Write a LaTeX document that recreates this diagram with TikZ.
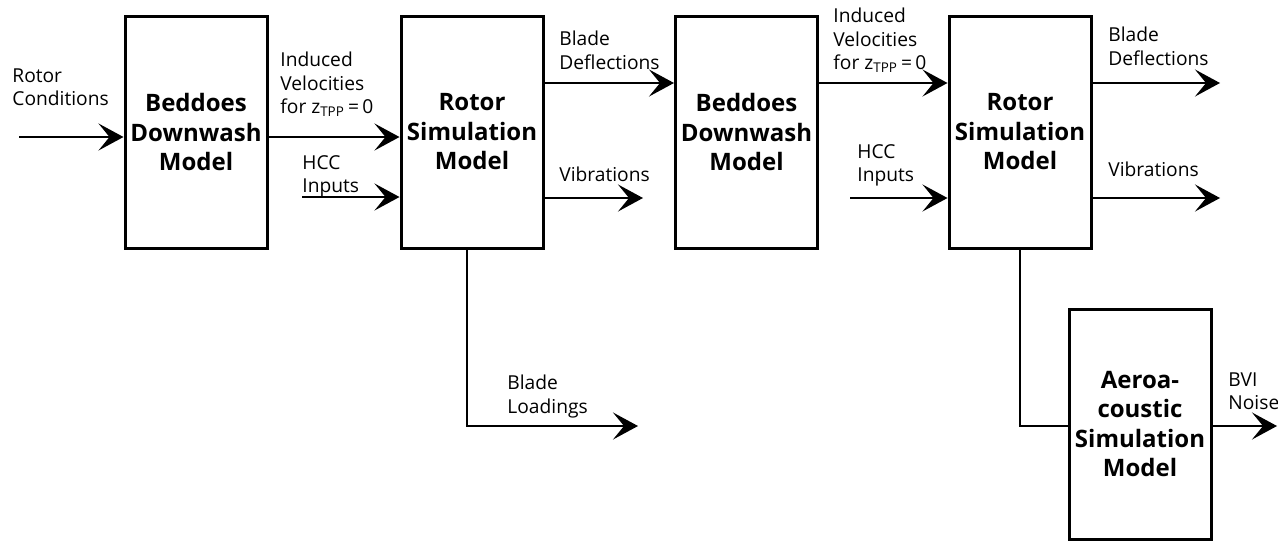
\documentclass[tikz,border=0pt]{standalone}
\usepackage{fontspec}
\setmainfont{Open Sans}
\usetikzlibrary{arrows.meta}
\tikzset{
  modelbox/.style={draw, line width=1.5pt, rectangle, inner sep=0pt, minimum width=71pt, minimum height=116pt, align=center, font=\bfseries\fontsize{12}{14.75}\selectfont},
  lbl/.style={anchor=north west, inner sep=0pt, align=left, font=\fontsize{9.6}{11.6}\selectfont},
  conn/.style={line width=1pt},
  arr/.style={line width=1pt, -{Stealth[length=12.5pt,width=13.5pt,inset=5.5pt]}}
}
\begin{document}
\begin{tikzpicture}[x=0.5pt,y=-0.5pt]
\useasboundingbox (0,0) rectangle (1278,541);
% boxes
\node[modelbox] (b1) at (196,132) {Beddoes\\Downwash\\Model};
\node[modelbox] (b2) at (472,132) {Rotor\\Simulation\\Model};
\node[modelbox] (b3) at (746.5,132) {Beddoes\\Downwash\\Model};
\node[modelbox] (b4) at (1020,132) {Rotor\\Simulation\\Model};
\node[modelbox, minimum height=115pt] (b5) at (1140,424) {Aeroa-\\coustic\\Simulation\\Model};
% free ends
\coordinate (rc) at (19,137);
\coordinate (iv1) at (300,137);
\coordinate (hcc1) at (302,197);
\coordinate (bd1) at (600,83);
\coordinate (vib1) at (643,198);
\coordinate (hcc2) at (850,198);
\coordinate (bd2) at (1220,83);
\coordinate (vib2) at (1220,198);
\coordinate (blc) at (467,426);
\coordinate (bl) at (638,426);
\coordinate (bvi) at (1277,426);
% connectors
\draw[arr] (rc) -- (rc -| b1.west);
\draw[arr] (iv1 -| b1.east) -- (iv1 -| b2.west);
\draw[arr] (hcc1) -- (hcc1 -| b2.west);
\draw[arr] (bd1 -| b2.east) -- (bd1 -| b3.west);
\draw[arr] (vib1 -| b2.east) -- (vib1);
\draw[arr] (bd1 -| b3.east) -- (bd1 -| b4.west);
\draw[arr] (hcc2) -- (hcc2 -| b4.west);
\draw[arr] (bd2 -| b4.east) -- (bd2);
\draw[arr] (vib2 -| b4.east) -- (vib2);
\draw[arr] (blc |- b2.south) -- (blc) -- (bl);
\draw[conn] (b4.south) |- (bvi -| b5.west);
\draw[arr] (bvi -| b5.east) -- (bvi);
% labels
\node[lbl] (trc) at (12,68) {Rotor\\Conditions};
\node[lbl] (tiv1) at (280,52) {Induced\\Velocities\\for z\textsubscript{TPP}\,=\,0};
\node[lbl] (thcc1) at (302,155) {HCC\\Inputs};
\node[lbl] (tbd1) at (559,31) {Blade\\Deflections};
\node[lbl] (tvib1) at (559,167) {Vibrations};
\node[lbl] (tiv2) at (833,8) {Induced\\Velocities\\for z\textsubscript{TPP}\,=\,0};
\node[lbl] (thcc2) at (857,144) {HCC\\Inputs};
\node[lbl] (tbd2) at (1108,27) {Blade\\Deflections};
\node[lbl] (tvib2) at (1108,162) {Vibrations};
\node[lbl] (tbl) at (507,375) {Blade\\Loadings};
\node[lbl] (tbvi) at (1228,372) {BVI\\Noise};
\end{tikzpicture}
\end{document}
